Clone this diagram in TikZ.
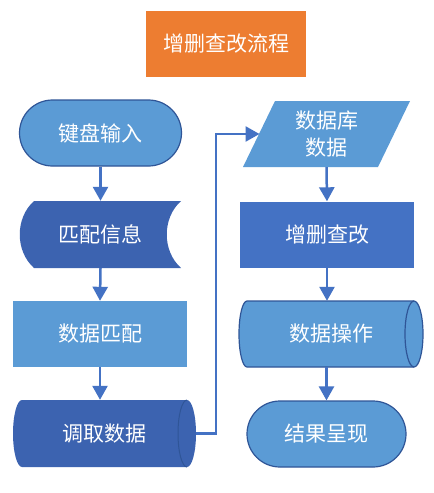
\documentclass[tikz,border=0pt]{standalone}
\usepackage{fontspec}
\setmainfont{Noto Sans CJK SC}
\usetikzlibrary{arrows.meta}
\definecolor{lightblue}{HTML}{5B9BD5}
\definecolor{midblue}{HTML}{4472C4}
\definecolor{darkblue}{HTML}{3C63B0}
\definecolor{edgeblue}{HTML}{2F5597}
\definecolor{orangebox}{HTML}{ED7D31}
\tikzset{
  lbl/.style={text=white, font=\fontsize{21}{27}\selectfont, align=center, inner sep=0pt},
  box/.style={lbl, minimum width=#1, minimum height=66pt},
  flow/.style={draw=midblue, line width=2.5pt, -{Triangle[width=15pt,length=14pt]}},
  shapeedge/.style={draw=edgeblue, line width=1.2pt},
}
\begin{document}
\begin{tikzpicture}[x=1pt,y=-1pt]
\useasboundingbox (0,0) rectangle (434,493);
\fill[white] (0,0) rectangle (434,493);

% title
\node[box=160pt, fill=orangebox] (title) at (226,44) {增删查改流程};

% left column
\node[box=162pt, fill=lightblue, shapeedge, rounded corners=33pt] (kb) at (100.5,133) {键盘输入};

\fill[darkblue] (34,201) -- (181,201) .. controls (162,218) and (162,251) .. (181,268)
  -- (34,268) .. controls (15,251) and (15,218) .. (34,201) -- cycle;
\node[box=161pt, minimum height=67pt] (pp) at (100.5,234.5) {匹配信息};

\node[box=174pt, fill=lightblue] (match) at (100,334) {数据匹配};

\fill[darkblue] (22,400) -- (187,400) arc[start angle=90, end angle=-90, x radius=9pt, y radius=33.5pt]
  -- (22,467) arc[start angle=270, end angle=90, x radius=9pt, y radius=33.5pt] -- cycle;
\draw[edgeblue, line width=1pt] (187,400) arc[start angle=90, end angle=270, x radius=9pt, y radius=33.5pt];
\node[box=183pt, minimum height=67pt] (fetch) at (104.5,433.5) {调取数据};

% right column
\fill[lightblue] (275,101) -- (410,101) -- (378,167) -- (243,167) -- cycle;
\node[lbl, minimum width=140pt, minimum height=66pt] (db) at (326.5,134) {数据库\\[0pt]数据};

\node[box=174pt, fill=midblue, minimum height=66pt] (crud) at (327,234.5) {增删查改};

\filldraw[fill=lightblue, shapeedge] (247,301) -- (414,301) arc[start angle=90, end angle=-90, x radius=9pt, y radius=33pt]
  -- (247,367) arc[start angle=270, end angle=90, x radius=8pt, y radius=33pt] -- cycle;
\draw[shapeedge] (414,301) arc[start angle=90, end angle=270, x radius=9pt, y radius=33pt];
\node[box=184pt] (op) at (331,334) {数据操作};

\node[box=159pt, fill=lightblue, shapeedge, rounded corners=33pt] (res) at (326.5,434) {结果呈现};

% connectors
\draw[flow] (kb.south) -- (pp.north);
\draw[flow] (pp.south) -- (match.north);
\draw[flow] (match.south) -- (fetch.north -| match.south);
\coordinate (c1) at (216,433.5);
\coordinate (c2) at (216,134);
\draw[flow] (fetch.east) -- (c1) -- (c2) -- (259.5,134);
\draw[flow] (db.south) -- (crud.north);
\draw[flow] (crud.south) -- (op.north -| crud.south);
\draw[flow] (op.south -| res.north) -- (res.north);
\end{tikzpicture}
\end{document}
